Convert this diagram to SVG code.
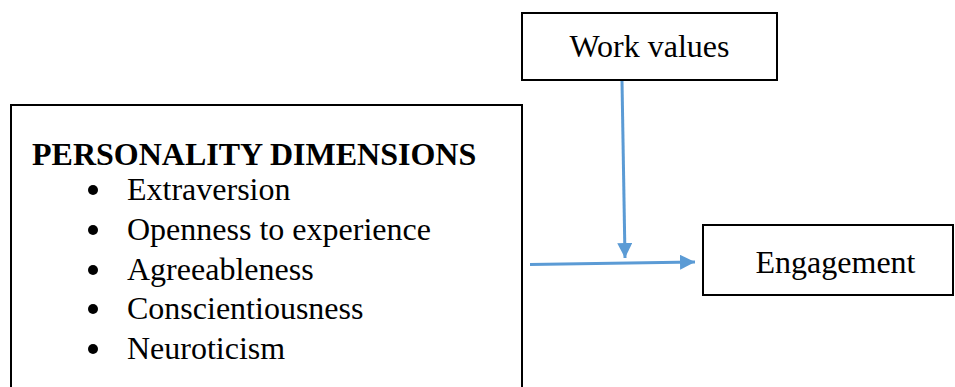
<svg xmlns="http://www.w3.org/2000/svg" width="955" height="387" viewBox="0 0 955 387">
  <defs>
    <marker id="arrow" viewBox="0 0 10 10" refX="10" refY="5" markerWidth="5" markerHeight="5" markerUnits="strokeWidth" orient="auto">
      <path d="M0,0 L10,5 L0,10 Z" fill="#5B9BD5"/>
    </marker>
    <style>
      .box { fill: #ffffff; stroke: #000000; stroke-width: 2; }
      .t { font-family: "Liberation Serif", "Times New Roman", serif; font-size: 32px; fill: #000000; }
      .b { font-weight: bold; }
      .link { fill: none; stroke: #5B9BD5; stroke-width: 3; marker-end: url(#arrow); }
    </style>
  </defs>

  <g id="personality">
    <rect class="box" x="11" y="105" width="511" height="300"/>
    <text class="t b" x="32" y="165">PERSONALITY DIMENSIONS</text>
    <g>
      <circle cx="93" cy="190" r="5"/>
      <text class="t" x="127" y="200">Extraversion</text>
      <circle cx="93" cy="230" r="5"/>
      <text class="t" x="127" y="240">Openness to experience</text>
      <circle cx="93" cy="270" r="5"/>
      <text class="t" x="127" y="280">Agreeableness</text>
      <circle cx="93" cy="309" r="5"/>
      <text class="t" x="127" y="319">Conscientiousness</text>
      <circle cx="93" cy="349" r="5"/>
      <text class="t" x="127" y="359">Neuroticism</text>
    </g>
  </g>

  <g id="work-values">
    <rect class="box" x="522" y="13" width="255" height="67"/>
    <text class="t" x="649.5" y="57" text-anchor="middle">Work values</text>
  </g>

  <g id="engagement">
    <rect class="box" x="703" y="225" width="250" height="70"/>
    <text class="t" x="835.5" y="273" text-anchor="middle">Engagement</text>
  </g>

  <g id="connectors">
    <path class="link" d="M622,81 L625,258"/>
    <path class="link" d="M530,264.5 L695,262"/>
  </g>
</svg>
